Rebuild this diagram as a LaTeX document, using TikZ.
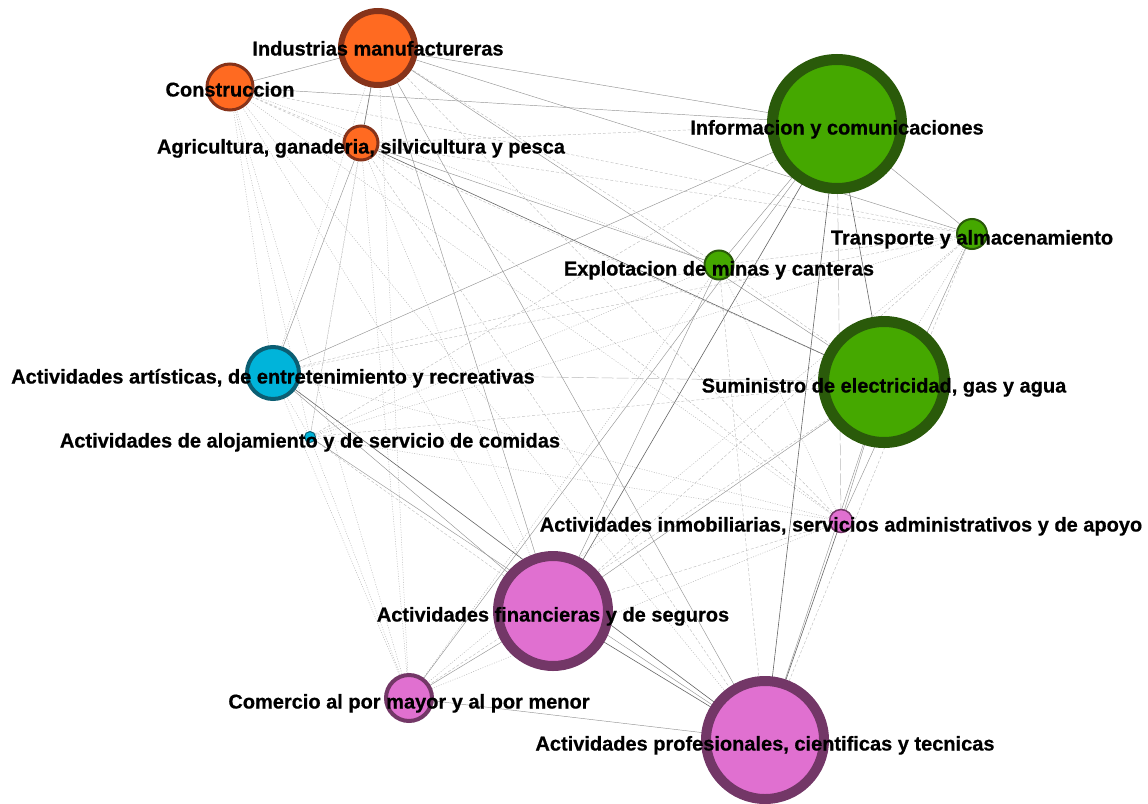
\documentclass[tikz,border=0pt]{standalone}
\usepackage{fontspec}
\setmainfont{Liberation Sans}[BoldFeatures={FakeBold=0.6}]
\usetikzlibrary{backgrounds}

\definecolor{orfill}{HTML}{FF6A21}
\definecolor{ordraw}{HTML}{86331A}
\definecolor{grfill}{HTML}{45A800}
\definecolor{grdraw}{HTML}{2A5A0A}
\definecolor{cyfill}{HTML}{00B4DA}
\definecolor{cydraw}{HTML}{0B5E73}
\definecolor{pkfill}{HTML}{E070D0}
\definecolor{pkdraw}{HTML}{733767}

\tikzset{
  sector/.style={circle, inner sep=0pt, outer sep=0pt},
  orange/.style={sector, fill=orfill, draw=ordraw},
  green/.style={sector, fill=grfill, draw=grdraw},
  cyan/.style={sector, fill=cyfill, draw=cydraw},
  pink/.style={sector, fill=pkfill, draw=pkdraw},
  lbl/.style={font=\fontsize{20}{24}\selectfont\bfseries, text=black,
              inner sep=0pt, anchor=base, yshift=-10.5pt},
  es/.style={draw=black!60, line width=0.6pt},
  em/.style={draw=black!42, line width=0.45pt},
  ed/.style={draw=black!25, line width=0.45pt, dash pattern=on 3pt off 2pt},
  eo/.style={draw=black!28, line width=0.5pt, dash pattern=on 1pt off 1.5pt},
  el/.style={draw=black!28, line width=0.5pt, dash pattern=on 12pt off 3pt},
}

\begin{document}
\begin{tikzpicture}[x=1pt, y=-1pt]
\useasboundingbox (0,0) rectangle (1148,803);

% sector circles (path radius = outer radius - half border)
\node[orange, line width=6pt, minimum size=74pt] (ind) at (378,48) {};
\node[orange, line width=3pt, minimum size=46pt] (con) at (230,87) {};
\node[orange, line width=3pt, minimum size=34pt] (agr) at (361,143) {};
\node[green, line width=11pt, minimum size=129pt] (inf) at (837,124) {};
\node[green, line width=2pt, minimum size=30pt] (tra) at (972,234) {};
\node[green, line width=2pt, minimum size=29pt] (exp) at (719,265) {};
\node[green, line width=11pt, minimum size=121pt] (sum) at (884,382) {};
\node[cyan, line width=4pt, minimum size=52pt] (art) at (273,373) {};
\node[cyan, line width=1pt, minimum size=11pt] (alo) at (310,437) {};
\node[pink, line width=1.5pt, minimum size=23pt] (inm) at (841,521) {};
\node[pink, line width=10pt, minimum size=110pt] (fin) at (553,611) {};
\node[pink, line width=4pt, minimum size=46pt] (com) at (409,698) {};
\node[pink, line width=10pt, minimum size=118pt] (pro) at (765,740) {};

% connectors between sectors
\begin{pgfonlayer}{background}
\draw[em] (ind) -- (con);
\draw[es] (ind) -- (agr);
\draw[em] (ind) -- (inf);
\draw[em] (ind) -- (tra);
\draw[ed] (ind) -- (exp);
\draw[em] (ind) -- (sum);
\draw[eo] (ind) -- (art);
\draw[eo] (ind) -- (alo);
\draw[ed] (ind) -- (inm);
\draw[em] (ind) -- (fin);
\draw[eo] (ind) -- (com);
\draw[em] (ind) -- (pro);

\draw[ed] (con) -- (agr);
\draw[em] (con) -- (inf);
\draw[ed] (con) -- (tra);
\draw[eo] (con) -- (exp);
\draw[ed] (con) -- (sum);
\draw[eo] (con) -- (art);
\draw[eo] (con) -- (alo);
\draw[eo] (con) -- (inm);
\draw[eo] (con) -- (fin);
\draw[eo] (con) -- (com);
\draw[eo] (con) -- (pro);

\draw[ed] (agr) -- (inf);
\draw[ed] (agr) -- (tra);
\draw[em] (agr) -- (exp);
\draw[es] (agr) -- (sum);
\draw[em] (agr) -- (art);
\draw[eo] (agr) -- (alo);
\draw[ed] (agr) -- (inm);
\draw[eo] (agr) -- (fin);
\draw[eo] (agr) -- (com);
\draw[ed] (agr) -- (pro);

\draw[em] (inf) -- (tra);
\draw[em] (inf) -- (exp);
\draw[es] (inf) -- (sum);
\draw[em] (inf) -- (art);
\draw[ed] (inf) -- (alo);
\draw[el] (inf) -- (inm);
\draw[es] (inf) -- (fin);
\draw[em] (inf) -- (com);
\draw[es] (inf) -- (pro);

\draw[ed] (tra) -- (exp);
\draw[eo] (tra) -- (sum);
\draw[ed] (tra) -- (art);
\draw[eo] (tra) -- (alo);
\draw[em] (tra) -- (inm);
\draw[ed] (tra) -- (fin);
\draw[eo] (tra) -- (com);
\draw[ed] (tra) -- (pro);

\draw[ed] (exp) -- (sum);
\draw[ed] (exp) -- (art);
\draw[eo] (exp) -- (alo);
\draw[eo] (exp) -- (inm);
\draw[em] (exp) -- (fin);
\draw[eo] (exp) -- (com);
\draw[ed] (exp) -- (pro);

\draw[el] (sum) -- (art);
\draw[ed] (sum) -- (alo);
\draw[em] (sum) -- (inm);
\draw[em] (sum) -- (fin);
\draw[ed] (sum) -- (com);
\draw[em] (sum) -- (pro);

\draw[eo] (art) -- (alo);
\draw[eo] (art) -- (inm);
\draw[em] (art) -- (fin);
\draw[eo] (art) -- (com);
\draw[es] (art) -- (pro);

\draw[eo] (alo) -- (inm);
\draw[ed] (alo) -- (fin);
\draw[eo] (alo) -- (com);
\draw[em] (alo) -- (pro);

\draw[ed] (inm) -- (fin);
\draw[eo] (inm) -- (com);
\draw[es] (inm) -- (pro);

\draw[em] (fin) -- (com);
\draw[es] (fin) -- (pro);

\draw[em] (com) -- (pro);
\end{pgfonlayer}

% sector names
\node[lbl, yshift=3pt] (tind) at (ind) {Industrias manufactureras};
\node[lbl, yshift=1pt] (tcon) at (con) {Construccion};
\node[lbl] (tagr) at (agr) {Agricultura, ganaderia, silvicultura y pesca};
\node[lbl] (tinf) at (inf) {Informacion y comunicaciones};
\node[lbl] (ttra) at (tra) {Transporte y almacenamiento};
\node[lbl] (texp) at (exp) {Explotacion de minas y canteras};
\node[lbl] (tsum) at (sum) {Suministro de electricidad, gas y agua};
\node[lbl] (tart) at (art) {Actividades artísticas, de entretenimiento y recreativas};
\node[lbl] (talo) at (alo) {Actividades de alojamiento y de servicio de comidas};
\node[lbl] (tinm) at (inm) {Actividades inmobiliarias, servicios administrativos y de apoyo};
\node[lbl] (tfin) at (fin) {Actividades financieras y de seguros};
\node[lbl] (tcom) at (com) {Comercio al por mayor y al por menor};
\node[lbl] (tpro) at (pro) {Actividades profesionales, cientificas y tecnicas};
\end{tikzpicture}
\end{document}
